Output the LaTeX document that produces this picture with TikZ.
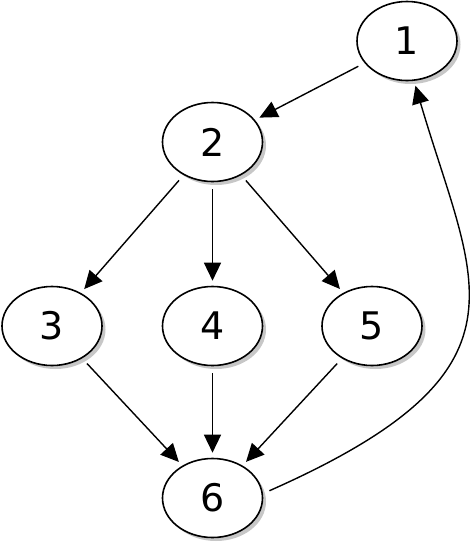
\documentclass[tikz,border=0pt]{standalone}
\usepackage{fontspec}
\setmainfont{DejaVu Sans}
\usetikzlibrary{shapes.geometric,shadows,arrows.meta}
\begin{document}
\begin{tikzpicture}[x=1pt,y=-1pt,
  vertex/.style={ellipse,draw,line width=1.6pt,fill=white,minimum width=100pt,minimum height=79pt,inner sep=0pt,
    font=\fontsize{38}{40}\selectfont,
    drop shadow={shadow xshift=3.5pt,shadow yshift=-3.5pt,fill=black!22,opacity=1}},
  edge/.style={line width=1.4pt,-{Triangle[length=18pt,width=17pt]},shorten <=7pt,shorten >=5pt}]
\useasboundingbox (0,0) rectangle (474,549);
\node[vertex] (1) at (407,41) {1};
\node[vertex] (2) at (212.5,142) {2};
\node[vertex] (3) at (52,326) {3};
\node[vertex] (4) at (212.5,326) {4};
\node[vertex] (5) at (372,326) {5};
\node[vertex] (6) at (212.5,498) {6};
\draw[edge] (1) -- (2);
\draw[edge] (2) -- (3);
\draw[edge] (2) -- (4);
\draw[edge] (2) -- (5);
\draw[edge] (3) -- (6);
\draw[edge] (4) -- (6);
\draw[edge] (5) -- (6);
\draw[edge] (6.5) .. controls (542,370) and (474,285) .. (1.-80);
\end{tikzpicture}
\end{document}
